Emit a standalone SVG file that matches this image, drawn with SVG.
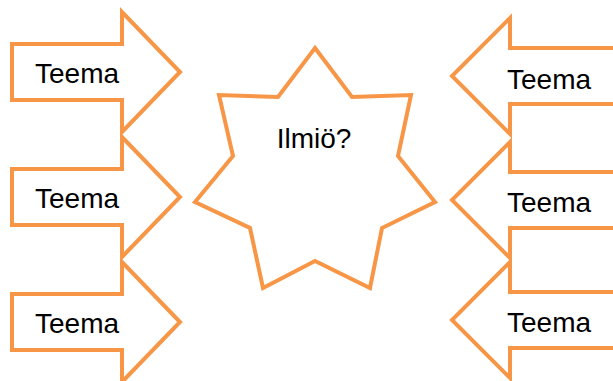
<svg xmlns="http://www.w3.org/2000/svg" width="613" height="381" viewBox="0 0 613 381">
<style>
.shape{fill:#fff;stroke:#F79646;stroke-width:4;stroke-linejoin:miter;stroke-miterlimit:10}
.lbl{font-family:"Liberation Sans",Arial,sans-serif;font-size:28px;fill:#000}
</style>
<rect width="613" height="381" fill="#fff"/>
<g id="left1"><polygon class="shape" points="12,44 122,44 122,12 180,72 122,132 122,100 12,100"/><text class="lbl" x="35" y="83">Teema</text></g>
<g id="left2"><polygon class="shape" points="12,169 122,169 122,137 180,197 122,257 122,225 12,225"/><text class="lbl" x="35" y="208">Teema</text></g>
<g id="left3"><polygon class="shape" points="12,294 122,294 122,262 180,322 122,382 122,350 12,350"/><text class="lbl" x="35" y="333">Teema</text></g>
<g id="right1"><polygon class="shape" points="630,48 510,48 510,18 452,76 510,134 510,104 630,104"/><text class="lbl" x="507" y="89">Teema</text></g>
<g id="right2"><polygon class="shape" points="630,172 510,172 510,142 452,200 510,258 510,228 630,228"/><text class="lbl" x="507" y="212">Teema</text></g>
<g id="right3"><polygon class="shape" points="630,292 510,292 510,262 452,320 510,378 510,348 630,348"/><text class="lbl" x="507" y="332">Teema</text></g>
<g id="star"><polygon class="shape" points="315,48 352,97 411,95 398,156 435,202 382,228 370,288 315,261 263,288 250,228 195,202 233,156 219,95 278,97"/><text class="lbl" x="314" y="148" text-anchor="middle">Ilmiö?</text></g>
<g id="connectors"></g>
</svg>
